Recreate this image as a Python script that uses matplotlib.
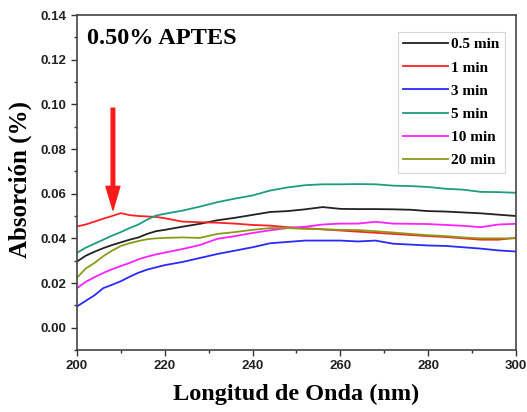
import matplotlib
matplotlib.use("Agg")
import matplotlib.pyplot as plt
from matplotlib.ticker import MultipleLocator, FormatStrFormatter

# Wavelength grid (nm)
wavelength = [200, 202, 204, 206, 208, 210, 212, 214, 216, 218, 220,
              224, 228, 232, 236, 240, 244, 248, 252, 256, 260,
              264, 268, 272, 276, 280, 284, 288, 292, 296, 300]

# Absorbance for each immersion time
abs_05min = [0.0296, 0.0322, 0.0340, 0.0356, 0.0370, 0.0382, 0.0394, 0.0404, 0.0420, 0.0432, 0.0438,
             0.0452, 0.0465, 0.0481, 0.0492, 0.0505, 0.0518, 0.0522, 0.0530, 0.0540, 0.0532,
             0.0531, 0.0531, 0.0530, 0.0528, 0.0522, 0.0520, 0.0516, 0.0512, 0.0506, 0.0500]
abs_1min = [0.0453, 0.0462, 0.0475, 0.0488, 0.0500, 0.0513, 0.0504, 0.0500, 0.0498, 0.0496, 0.0490,
            0.0475, 0.0472, 0.0470, 0.0466, 0.0460, 0.0457, 0.0450, 0.0446, 0.0440, 0.0435,
            0.0430, 0.0425, 0.0420, 0.0415, 0.0410, 0.0406, 0.0400, 0.0394, 0.0394, 0.0402]
abs_3min = [0.0095, 0.0120, 0.0145, 0.0177, 0.0192, 0.0208, 0.0228, 0.0246, 0.0260, 0.0270, 0.0280,
            0.0294, 0.0312, 0.0330, 0.0345, 0.0360, 0.0378, 0.0384, 0.0390, 0.0390, 0.0390,
            0.0386, 0.0390, 0.0376, 0.0372, 0.0368, 0.0366, 0.0360, 0.0354, 0.0346, 0.0341]
abs_5min = [0.0335, 0.0358, 0.0376, 0.0394, 0.0412, 0.0428, 0.0446, 0.0462, 0.0484, 0.0502, 0.0510,
            0.0524, 0.0542, 0.0562, 0.0578, 0.0592, 0.0614, 0.0628, 0.0638, 0.0642, 0.0642,
            0.0643, 0.0642, 0.0636, 0.0634, 0.0630, 0.0622, 0.0618, 0.0608, 0.0607, 0.0604]
abs_10min = [0.0177, 0.0205, 0.0226, 0.0245, 0.0262, 0.0276, 0.0290, 0.0306, 0.0318, 0.0328, 0.0336,
             0.0352, 0.0370, 0.0398, 0.0410, 0.0424, 0.0436, 0.0446, 0.0452, 0.0462, 0.0466,
             0.0466, 0.0474, 0.0466, 0.0465, 0.0464, 0.0460, 0.0456, 0.0450, 0.0462, 0.0465]
abs_20min = [0.0223, 0.0265, 0.0290, 0.0320, 0.0345, 0.0366, 0.0378, 0.0388, 0.0396, 0.0400, 0.0402,
             0.0404, 0.0402, 0.0420, 0.0428, 0.0438, 0.0446, 0.0446, 0.0442, 0.0441, 0.0438,
             0.0437, 0.0432, 0.0426, 0.0420, 0.0414, 0.0410, 0.0404, 0.0400, 0.0400, 0.0400]

series_labels = ["0.5 min", "1 min", "3 min", "5 min", "10 min", "20 min"]
series_colors = ["#222222", "#ff2222", "#2a2aff", "#1f9c80", "#ff22ff", "#8c9a1a"]
series_values = [abs_05min, abs_1min, abs_3min, abs_5min, abs_10min, abs_20min]

arrow_x = 208.2
arrow_top = 0.0983
arrow_tip = 0.0527

serif = ["Liberation Serif", "DejaVu Serif"]
sans = ["Liberation Sans", "DejaVu Sans"]

fig = plt.figure(figsize=(5.27, 4.12), dpi=100)
ax = fig.add_axes([0.146, 0.1505, 0.833, 0.813])

for vals, lab, col in zip(series_values, series_labels, series_colors):
    ax.plot(wavelength, vals, color=col, lw=1.3, label=lab)

ax.set_xlim(200, 300)
ax.set_ylim(-0.01, 0.14)
ax.xaxis.set_major_locator(MultipleLocator(20))
ax.xaxis.set_minor_locator(MultipleLocator(10))
ax.yaxis.set_major_locator(MultipleLocator(0.02))
ax.yaxis.set_minor_locator(MultipleLocator(0.01))
ax.yaxis.set_major_formatter(FormatStrFormatter("%.2f"))
ax.tick_params(which="major", direction="out", length=4, width=1, colors="#333333")
ax.tick_params(which="minor", direction="out", length=2.5, width=1, colors="#333333")
for lbl in ax.get_xticklabels() + ax.get_yticklabels():
    lbl.set_family(sans)
    lbl.set_fontweight("bold")
    lbl.set_fontsize(9.5)
    lbl.set_color("#222222")
for sp in ax.spines.values():
    sp.set_color("#444444")
    sp.set_linewidth(1.2)

ax.set_xlabel("Longitud de Onda (nm)", family=serif, fontweight="bold",
              fontsize=17.5, labelpad=8)
ax.set_ylabel("Absorción (%)", family=serif, fontweight="bold",
              fontsize=18)
ax.yaxis.set_label_coords(-0.103, 0.51)

ax.text(0.022, 0.962, "0.50% APTES", transform=ax.transAxes, family=serif,
        fontweight="bold", fontsize=17.5, va="top", ha="left")

ax.annotate("", xy=(arrow_x, arrow_tip), xytext=(arrow_x, arrow_top),
            arrowprops=dict(arrowstyle="simple,head_length=0.85,head_width=0.5,tail_width=0.13",
                            color="#ff1a1a", mutation_scale=20, shrinkA=0, shrinkB=0))

leg = ax.legend(loc="upper right", bbox_to_anchor=(0.975, 0.948), borderaxespad=0,
                frameon=True, fancybox=False, handlelength=2.9, handletextpad=0.25,
                labelspacing=0.62, borderpad=0.35,
                prop=dict(family=serif, weight="bold", size=11))
leg.get_frame().set_edgecolor("#cccccc")
leg.get_frame().set_linewidth(0.8)

fig.savefig("out.png", dpi=100)
